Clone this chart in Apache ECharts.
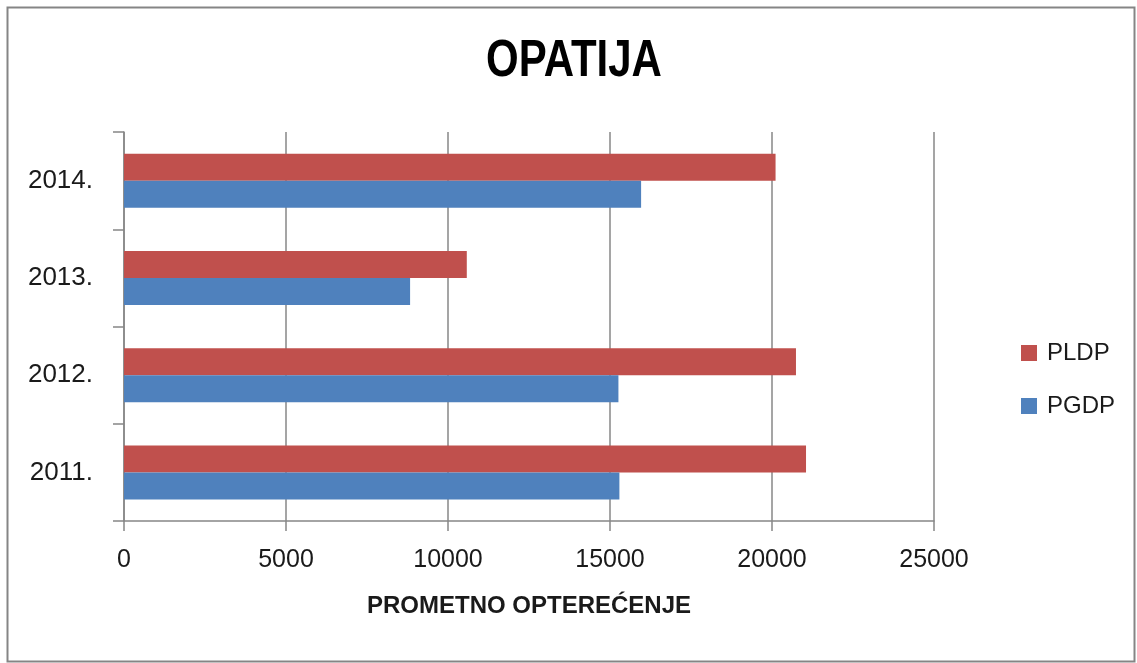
<!DOCTYPE html>
<html>
<head>
<meta charset="utf-8">
<script src="https://cdn.jsdelivr.net/npm/echarts@6/dist/echarts.min.js"></script>
<style>
html,body{margin:0;padding:0;background:#fff;}
#c{width:1137px;height:663px;}
</style>
</head>
<body>
<div id="c"></div>
<script>
const categories = ['2011.', '2012.', '2013.', '2014.'];
const pldp = [21050, 20740, 10580, 20110];
const pgdp = [15290, 15260, 8830, 15960];
const xTicks = [0, 5000, 10000, 15000, 20000, 25000];

const chart = echarts.init(document.getElementById('c'));
const axisGray = '#878787';
chart.setOption({
  animation: false,
  backgroundColor: '#fff',
  graphic: [{
    type: 'rect', left: 5, top: 5,
    shape: { x: 0, y: 0, width: 1127, height: 654 },
    style: { fill: 'none', stroke: '#858585', lineWidth: 2 }
  }, {
    type: 'text', x: 574, y: 62, scaleY: 1.25,
    style: {
      text: 'OPATIJA', align: 'center', verticalAlign: 'middle',
      font: 'bold 42px "Liberation Sans", Arial, sans-serif', fill: '#000'
    }
  }],
  legend: {
    orient: 'vertical',
    left: 1021, top: 341, padding: 0,
    itemWidth: 16, itemHeight: 16, itemGap: 29,
    icon: 'rect',
    data: ['PLDP', 'PGDP'],
    textStyle: { fontFamily: 'Liberation Sans', fontSize: 24, lineHeight: 24, color: '#1a1a1a', padding: [0, 0, 0, 5] }
  },
  grid: { left: 124, right: 203, top: 132, bottom: 142, containLabel: false },
  xAxis: {
    type: 'value', min: xTicks[0], max: xTicks[xTicks.length - 1], interval: 5000,
    name: 'PROMETNO OPTEREĆENJE', nameLocation: 'middle', nameGap: 73,
    nameTextStyle: { fontFamily: 'Liberation Sans', fontWeight: 'bold', fontSize: 24, color: '#1a1a1a' },
    axisLine: { show: true, lineStyle: { color: axisGray, width: 1.5 } },
    axisTick: { show: true, length: 10, lineStyle: { color: axisGray, width: 1.5 } },
    axisLabel: { margin: 27, fontFamily: 'Liberation Sans', fontSize: 25, color: '#1a1a1a', formatter: v => String(v) },
    splitLine: { show: true, lineStyle: { color: axisGray, width: 1.5 } }
  },
  yAxis: {
    type: 'category', data: categories,
    axisLine: { show: true, lineStyle: { color: axisGray, width: 1.5 } },
    axisTick: { show: true, length: 11, lineStyle: { color: axisGray, width: 1.5 } },
    axisLabel: { margin: 31, fontFamily: 'Liberation Sans', fontSize: 26, color: '#1a1a1a' }
  },
  series: [
    { name: 'PLDP', type: 'bar', data: pldp, barWidth: 27, barGap: '0%', itemStyle: { color: '#C0504D' } },
    { name: 'PGDP', type: 'bar', data: pgdp, barWidth: 27, barGap: '0%', itemStyle: { color: '#4F81BD' } }
  ]
});
</script>
</body>
</html>
